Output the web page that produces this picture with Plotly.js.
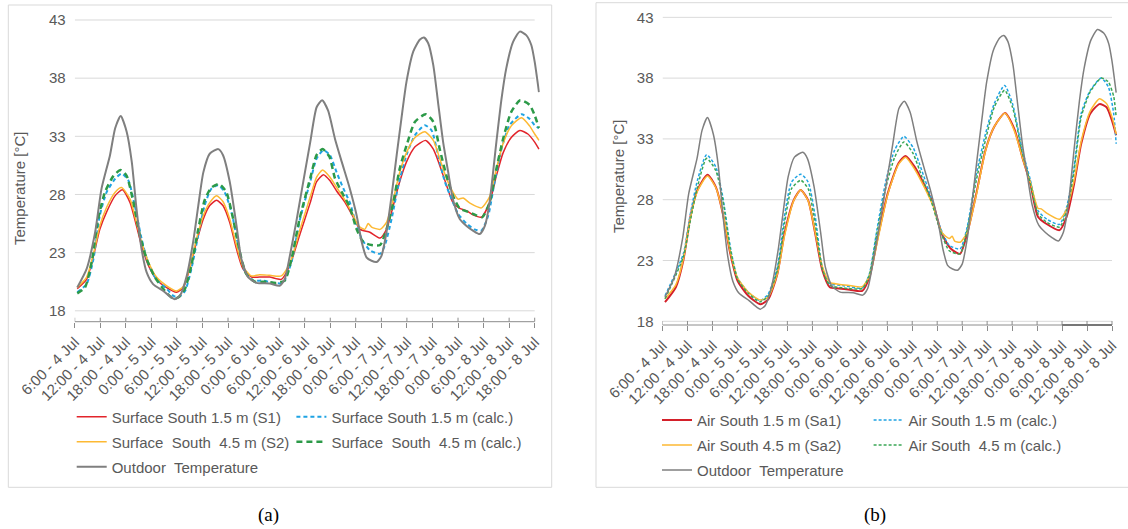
<!DOCTYPE html>
<html><head><meta charset="utf-8">
<script src="https://cdn.plot.ly/plotly-3.0.1.min.js"></script>
<style>html,body{margin:0;padding:0;background:#fff}#chart{width:1128px;height:529px}</style>
</head><body><div id="chart"></div>
<script>
// ---- categories / ticks (hours after 6:00 on 4 Jul) ----
const tickHours = [0,6,12,18,24,30,36,42,48,54,60,66,72,78,84,90,96,102,108];
const tickLabels = ['6:00 - 4 Jul','12:00 - 4 Jul','18:00 - 4 Jul','0:00 - 5 Jul','6:00 - 5 Jul','12:00 - 5 Jul','18:00 - 5 Jul','0:00 - 6 Jul','6:00 - 6 Jul','12:00 - 6 Jul','18:00 - 6 Jul','0:00 - 7 Jul','6:00 - 7 Jul','12:00 - 7 Jul','18:00 - 7 Jul','0:00 - 8 Jul','6:00 - 8 Jul','12:00 - 8 Jul','18:00 - 8 Jul'];
const gridTemps = [18,23,28,33,38,43];

// ---- Outdoor temperature (both panels) ----
const outdoorH = [0.6,2.8,4.8,6.3,8.3,9.5,10.8,12.2,13.4,14.5,15.7,16.9,18.4,20.8,22.7,23.5,24.7,26.3,27.8,29.0,30.2,31.7,33.7,34.8,36.4,38.0,39.1,40.7,42.7,45.8,48.1,49.3,50.5,52.0,52.9,55.3,56.8,58.1,59.5,61.1,62.7,64.6,66.2,67.4,68.5,69.7,70.9,72.0,73.2,74.4,75.6,76.7,77.9,79.5,81.0,82.0,83.0,84.2,85.3,86.5,87.7,88.8,90.4,92.0,93.5,95.1,96.3,97.4,99.0,100.2,101.3,102.9,104.5,106.0,107.2,108.0,109.0];
const outdoorT = [20.0,21.6,24.75,28.5,31.4,33.7,34.75,33.4,30.8,26.8,23.3,21.3,20.3,19.7,19.15,19.0,19.3,21.0,23.9,27.0,29.9,31.5,31.9,31.4,29.1,25.3,22.5,20.9,20.4,20.35,20.15,20.7,22.7,25.6,27.5,32.5,35.5,36.1,35.2,32.8,30.8,28.5,26.2,23.9,22.6,22.3,22.2,22.7,24.75,27.9,31.4,34.5,37.7,40.3,41.3,41.5,41.0,39.1,35.95,32.5,29.9,27.6,25.9,25.3,24.9,24.6,25.3,27.3,32.5,36.2,38.8,41.1,42.0,41.7,40.85,39.4,36.8];

// ---- Panel (a): surface temperatures ----
const aS1H = [0.6,2.8,4.4,5.9,7.5,9.5,11.2,13.0,14.5,15.7,17.3,19.2,21.6,23.9,25.5,27.0,28.6,30.2,31.7,33.3,34.8,36.4,38.0,39.5,41.5,43.4,45.8,48.5,50.5,52.9,55.3,56.8,58.4,59.9,61.5,63.5,65.4,67.0,69.3,71.7,73.2,74.8,76.3,77.9,79.9,82.4,84.2,85.7,87.3,88.8,90.4,92.0,93.5,95.5,97.4,99.0,100.6,102.5,104.5,106.4,108.0,109.0];
const aS1T = [19.9,20.7,22.7,25.0,26.5,27.9,28.4,27.3,25.3,23.6,21.9,20.7,20.0,19.6,20.0,21.6,23.9,25.9,27.05,27.5,27.05,25.6,23.3,21.6,20.9,20.9,20.9,20.7,21.9,24.6,27.3,29.1,29.7,29.2,28.3,27.3,26.05,25.0,24.75,24.25,25.0,27.05,29.1,30.8,32.1,32.65,31.9,30.5,28.8,27.3,26.8,26.6,26.25,26.05,27.3,29.6,31.6,32.9,33.5,33.2,32.5,31.9];

const aS1cH = [0.6,2.8,4.4,5.9,7.5,9.5,11.0,12.6,14.1,15.7,17.3,19.2,21.6,23.1,24.3,25.9,27.4,29.0,30.5,32.1,33.7,35.2,36.8,38.4,39.9,41.9,44.2,46.6,48.9,50.9,52.9,55.3,56.8,58.4,59.9,61.5,63.1,64.6,66.2,67.4,69.3,71.7,72.8,74.4,76.0,77.9,79.9,82.2,83.8,85.3,86.9,88.5,90.0,92.0,93.9,95.5,97.1,98.6,100.2,102.1,104.9,106.8,108.0,109.0];
const aS1cT = [19.6,20.3,22.45,26.2,28.2,29.35,29.8,29.2,27.05,24.2,22.05,20.7,19.9,19.3,19.15,19.7,21.6,24.5,27.05,28.5,28.8,28.2,26.5,23.6,21.45,20.6,20.6,20.4,20.4,22.2,25.9,29.1,31.1,31.8,31.4,29.9,28.5,27.3,25.3,24.2,23.2,22.9,23.6,25.9,28.8,31.4,33.1,33.95,33.5,31.4,29.1,27.6,26.35,25.5,25.0,24.9,26.2,29.1,31.9,33.95,34.9,34.5,33.95,33.7];

const aS2H = [0.6,2.8,4.4,5.9,7.5,9.5,11.0,13.0,14.5,15.7,17.3,19.2,21.6,23.9,25.5,27.0,28.6,30.2,31.7,33.3,34.8,36.4,38.0,39.5,41.5,43.4,45.8,48.5,50.5,52.9,55.3,56.8,58.2,59.9,61.5,63.5,65.4,66.6,68.1,68.9,69.7,71.7,73.2,74.8,76.3,77.9,79.9,82.2,84.2,85.7,87.3,88.8,90.0,91.2,92.8,95.5,97.4,99.0,100.6,102.5,104.9,106.8,108.0,109.0];
const aS2T = [20.0,20.9,22.9,25.3,26.9,28.2,28.6,27.6,25.6,23.9,22.2,20.9,20.15,19.7,20.1,21.7,24.2,26.2,27.3,27.9,27.4,25.9,23.6,21.8,21.0,21.1,21.05,21.0,22.05,25.0,27.8,29.5,30.1,29.5,28.6,27.5,26.2,25.3,25.0,25.5,25.2,25.0,25.6,27.6,29.9,31.6,32.9,33.4,32.65,31.1,29.35,28.2,27.6,27.7,27.25,26.85,27.8,30.2,32.4,33.9,34.6,33.9,33.2,32.65];

const aS2cH = [0.6,2.4,4.0,5.5,7.1,9.1,10.8,12.2,13.8,15.3,16.9,18.8,21.2,23.1,24.3,25.9,27.4,29.0,30.5,32.1,33.9,35.6,37.2,38.8,40.3,42.3,45.0,47.3,49.3,50.9,52.8,55.3,56.8,58.2,59.8,61.1,62.7,64.6,66.2,67.8,69.7,71.7,73.2,74.8,76.3,77.9,79.9,82.4,84.2,85.7,87.3,88.8,90.4,92.4,94.3,95.7,97.4,99.0,100.6,102.5,104.6,106.8,108.0,109.0];
const aS2cT = [19.5,20.0,22.2,25.9,28.2,29.6,30.1,29.6,27.3,24.5,22.45,20.9,19.7,19.05,19.15,19.9,21.9,25.0,27.5,28.6,28.9,28.2,25.9,23.0,21.15,20.5,20.5,20.4,20.6,22.45,25.9,29.4,31.4,31.9,31.25,29.4,28.2,26.9,25.0,23.9,23.65,23.65,25.0,27.3,30.2,32.2,34.25,34.9,34.25,31.9,29.6,27.9,26.8,26.5,26.2,26.05,27.3,30.2,32.8,35.1,36.1,35.7,34.8,33.7];

// ---- Panel (b): air temperatures ----
const bS1H = [0.6,3.2,5.0,6.7,8.4,10.8,12.8,14.5,16.3,18.0,20.6,23.5,25.4,27.6,29.3,31.5,33.2,35.0,36.7,38.4,40.2,42.3,45.0,48.0,49.7,51.9,54.1,56.7,58.4,60.6,62.8,65.0,67.1,69.3,71.5,73.2,75.4,77.6,79.7,82.3,84.5,86.7,88.4,90.2,92.3,95.4,97.1,98.9,100.6,102.8,105.0,106.7,108.0,109.0];
const bS1T = [19.57,20.8,23.0,26.6,28.8,30.06,29.05,26.85,23.55,21.35,20.1,19.4,19.8,21.9,25.2,27.95,28.8,27.95,25.2,22.2,20.8,20.7,20.6,20.5,21.6,25.2,28.5,31.0,31.6,30.7,29.3,27.7,25.2,23.96,23.55,25.2,28.5,32.07,34.0,35.14,33.85,31.2,29.3,26.6,26.0,25.5,26.6,29.3,32.6,35.1,35.86,35.6,34.5,33.3];

const bS1cH = [0.6,5.0,6.7,8.4,10.6,12.8,14.5,16.3,18.0,20.6,23.5,25.4,27.6,29.3,31.0,33.2,35.0,36.7,38.4,40.2,43.2,48.0,49.7,51.5,53.7,55.8,58.0,60.2,62.3,64.5,66.7,68.9,71.5,73.2,75.4,77.6,79.7,82.2,84.1,86.3,88.4,90.2,92.3,95.4,97.1,98.9,100.6,102.8,105.4,107.1,108.4,109.0];
const bS1cT = [20.1,23.55,26.85,29.6,31.7,30.7,28.2,24.1,21.6,20.4,19.7,20.25,22.45,26.6,29.45,30.1,29.45,26.6,22.45,21.1,20.95,20.75,21.9,25.5,29.6,32.1,33.2,32.3,30.4,28.2,25.75,24.25,23.96,25.75,30.1,33.4,35.9,37.4,35.9,32.3,29.6,27.1,26.4,25.97,27.4,30.7,35.1,37.0,38.0,37.3,35.1,32.6];

const bS2H = [0.6,3.2,5.0,6.7,8.4,10.8,12.8,14.5,16.3,18.0,20.6,23.5,25.4,27.6,29.3,31.5,33.2,35.0,36.7,38.4,40.2,42.3,45.0,48.0,49.7,51.9,54.1,56.7,58.4,60.6,62.8,65.0,67.1,68.9,69.6,70.2,71.5,73.2,75.4,77.6,79.7,82.3,84.5,86.7,88.4,90.2,91.0,92.3,95.4,97.1,98.9,100.6,102.8,105.0,106.7,108.0,109.0];
const bS2T = [19.85,21.0,23.1,26.5,28.7,29.95,29.0,26.9,23.7,21.6,20.4,19.75,20.0,21.9,25.0,27.9,28.8,27.9,25.3,22.5,21.2,21.05,20.95,20.85,21.7,25.0,28.4,30.9,31.5,30.5,29.1,27.5,25.3,24.8,25.0,24.6,24.5,25.3,28.4,32.0,34.0,35.1,33.7,31.2,29.4,27.3,27.25,26.9,26.4,27.2,29.6,32.8,35.3,36.3,35.9,34.8,33.4];

const bS2cH = [0.6,5.0,6.7,8.4,10.6,12.8,14.5,16.3,18.0,20.6,23.5,25.4,27.6,29.3,31.0,33.2,35.0,36.7,38.4,40.2,43.2,48.0,49.7,51.5,53.7,55.8,58.0,60.2,62.3,64.5,66.7,68.9,71.5,73.2,75.4,77.6,79.7,82.2,84.1,86.3,88.4,90.2,92.3,95.4,97.1,98.9,100.6,102.8,105.4,107.1,108.4,109.0];
const bS2cT = [19.85,23.3,26.3,29.05,31.4,30.4,27.95,23.96,21.5,20.3,19.6,20.1,22.2,26.0,28.9,29.6,28.9,26.0,22.3,20.95,20.75,20.7,21.8,25.2,29.05,31.5,32.75,31.8,29.9,27.95,25.5,23.8,23.55,25.5,29.6,32.9,35.6,37.0,35.6,32.1,29.3,26.85,26.15,25.75,27.1,30.4,34.8,36.9,38.0,37.7,36.5,34.8];

// ---- layout helpers ----
const W = 1128, H = 529;
const px = v => v / W;
const py = v => 1 - v / H;
const FONT = 'Liberation Sans, Arial, sans-serif';
const GREY_TXT = '#595959';
const AXIS_COL = '#8c8c8c';
const GRID_COL = '#d9d9d9';
const X_END = 109.2;   // last data hour shown (data runs a little past the last tick)
const Y_TOP = 43.08;   // a hair above 43 so the top gridline is not clipped

function tr(x, y, name, color, width, dash, xa, ya, legend, group) {
  return {type: 'scatter', mode: 'lines', x: x, y: y, name: name,
    xaxis: xa, yaxis: ya, legend: legend, legendgroup: group,
    line: {color: color, width: width, dash: dash, shape: 'spline', smoothing: 0.6},
    hoverinfo: 'skip'};
}

const RED = '#e2242b', BLUE = '#1ea3e3', ORANGE = '#fdb933', GREEN = '#2c9a48', GREY = '#7f7f7f';
const data = [
  tr(aS1H, aS1T, 'Surface South 1.5 m (S1)', RED, 1.5, 'solid', 'x', 'y', 'legend', 'a1'),
  tr(aS1cH, aS1cT, 'Surface South 1.5 m (calc.)', BLUE, 2, '4px,3px', 'x', 'y', 'legend2', 'a2'),
  tr(aS2H, aS2T, 'Surface\u00a0 South\u00a0 4.5 m (S2)', ORANGE, 1.5, 'solid', 'x', 'y', 'legend', 'a3'),
  tr(aS2cH, aS2cT, 'Surface\u00a0 South\u00a0 4.5 m (calc.)', GREEN, 2.5, '6px,4px', 'x', 'y', 'legend2', 'a4'),
  tr(outdoorH, outdoorT, 'Outdoor\u00a0 Temperature', GREY, 2, 'solid', 'x', 'y', 'legend', 'a5'),
  tr(bS1H, bS1T, 'Air South 1.5 m (Sa1)', '#d4202a', 2, 'solid', 'x2', 'y2', 'legend3', 'b1'),
  tr(bS1cH, bS1cT, 'Air South 1.5 m (calc.)', BLUE, 1.5, '3px,2px', 'x2', 'y2', 'legend4', 'b2'),
  tr(bS2H, bS2T, 'Air South 4.5 m (Sa2)', ORANGE, 1.5, 'solid', 'x2', 'y2', 'legend3', 'b3'),
  tr(bS2cH, bS2cT, 'Air South\u00a0 4.5 m (calc.)', '#3aa655', 1.5, '3px,2px', 'x2', 'y2', 'legend4', 'b4'),
  tr(outdoorH, outdoorT, 'Outdoor\u00a0 Temperature', GREY, 1.5, 'solid', 'x2', 'y2', 'legend3', 'b5')
];

// panel geometry (pixels): first/last tick x, y of 43 and of 18 gridlines, y of axis line
const A = {x0: 74.7, x1: 534.7, y43: 20, y18: 310.8, yAxis: 321.7};
const B = {x0: 662.5, x1: 1112, y43: 17.3, y18: 321.3, yAxis: 325};
function geom(P) {
  const pph = (P.x1 - P.x0) / 108;            // px per hour
  const ppd = (P.y18 - P.y43) / 25;            // px per degree
  const ymin = 18 - (P.yAxis - P.y18) / ppd;
  const yTopPx = P.y43 - (Y_TOP - 43) * ppd;
  return {xd: [px(P.x0), px(P.x0 + X_END * pph)], yd: [py(P.yAxis), py(yTopPx)], yr: [ymin, Y_TOP], ymin: ymin};
}
const GA = geom(A), GB = geom(B);

function xAx(G, anchor) {
  return {domain: G.xd, range: [0, X_END], anchor: anchor, type: 'linear',
    tickmode: 'array', tickvals: tickHours, ticktext: tickLabels, tickangle: -45,
    ticks: 'outside', ticklen: 5, tickcolor: AXIS_COL, tickwidth: 1,
    showline: false, showgrid: false, zeroline: false,
    tickfont: {family: FONT, size: 15, color: GREY_TXT}, fixedrange: true};
}
function yAx(G, anchor) {
  return {domain: G.yd, range: G.yr, anchor: anchor, type: 'linear',
    tickmode: 'array', tickvals: gridTemps, showgrid: false,
    showline: false, zeroline: false, ticks: '', ticklabelstandoff: 8,
    tickfont: {family: FONT, size: 15, color: GREY_TXT}, fixedrange: true};
}

function leg(xpx, ytop) {
  return {x: px(xpx), y: py(ytop), xanchor: 'left', yanchor: 'top', orientation: 'v',
    traceorder: 'grouped', tracegroupgap: 2.5, bgcolor: 'rgba(0,0,0,0)', borderwidth: 0,
    font: {family: FONT, size: 15, color: GREY_TXT}, itemclick: false, itemdoubleclick: false};
}

// gridlines, axis line and the upper half of the crossing tick marks (span first..last tick)
const shapes = [];
[['x', 'y', GA, A], ['x2', 'y2', GB, B]].forEach(([xa, ya, G, P]) => {
  gridTemps.forEach(t => shapes.push({type: 'line', xref: xa, yref: ya, layer: 'below',
    x0: tickHours[0], x1: tickHours[tickHours.length - 1], y0: t, y1: t, line: {color: GRID_COL, width: 1}}));
  shapes.push({type: 'line', xref: xa, yref: 'paper', layer: 'above',
    x0: tickHours[0], x1: tickHours[tickHours.length - 1], y0: py(P.yAxis), y1: py(P.yAxis), line: {color: AXIS_COL, width: 1}});
  tickHours.forEach(h => shapes.push({type: 'line', xref: xa, yref: ya, ysizemode: 'pixel', yanchor: G.ymin,
    x0: h, x1: h, y0: 0, y1: 4, line: {color: AXIS_COL, width: 1}, layer: 'above'}));
});
// the darker, heavier last stretch of the (b) axis line seen in the original
shapes.push({type: 'line', xref: 'x2', yref: 'paper', layer: 'above',
  x0: tickHours[16], x1: tickHours[18], y0: py(B.yAxis), y1: py(B.yAxis), line: {color: '#777777', width: 2}});
// panel frames
shapes.push({type: 'rect', xref: 'paper', yref: 'paper', x0: px(8.3), x1: px(551.7), y0: py(487.3), y1: py(5),
  line: {color: GRID_COL, width: 1}, fillcolor: 'rgba(0,0,0,0)', layer: 'below'});
shapes.push({type: 'rect', xref: 'paper', yref: 'paper', x0: px(596), x1: 1.01, y0: py(487.3), y1: py(2.7),
  line: {color: GRID_COL, width: 1}, fillcolor: 'rgba(0,0,0,0)', layer: 'below'});

const layout = {
  width: W, height: H, margin: {l: 0, r: 0, t: 0, b: 0},
  paper_bgcolor: '#ffffff', plot_bgcolor: 'rgba(0,0,0,0)', showlegend: true,
  xaxis: xAx(GA, 'y'), yaxis: yAx(GA, 'x'),
  xaxis2: xAx(GB, 'y2'), yaxis2: yAx(GB, 'x2'),
  legend: leg(71.7, 400.45), legend2: leg(291.4, 400.45),
  legend3: leg(657, 403.75), legend4: leg(868.6, 403.75),
  shapes: shapes,
  annotations: [
    {text: 'Temperature [°C]', xref: 'paper', yref: 'paper', x: px(19), y: py(188), xanchor: 'center', yanchor: 'middle',
      textangle: -90, showarrow: false, font: {family: FONT, size: 15, color: GREY_TXT}},
    {text: 'Temperature [°C]', xref: 'paper', yref: 'paper', x: px(618), y: py(176), xanchor: 'center', yanchor: 'middle',
      textangle: -90, showarrow: false, font: {family: FONT, size: 15, color: GREY_TXT}},
    {text: '(a)', xref: 'paper', yref: 'paper', x: px(268), y: py(515), xanchor: 'center', yanchor: 'middle', showarrow: false,
      font: {family: 'Liberation Serif, Times New Roman, serif', size: 19, color: '#000000'}},
    {text: '(b)', xref: 'paper', yref: 'paper', x: px(875), y: py(515), xanchor: 'center', yanchor: 'middle', showarrow: false,
      font: {family: 'Liberation Serif, Times New Roman, serif', size: 19, color: '#000000'}}
  ]
};

Plotly.newPlot('chart', data, layout, {staticPlot: true, displayModeBar: false});
</script></body></html>
